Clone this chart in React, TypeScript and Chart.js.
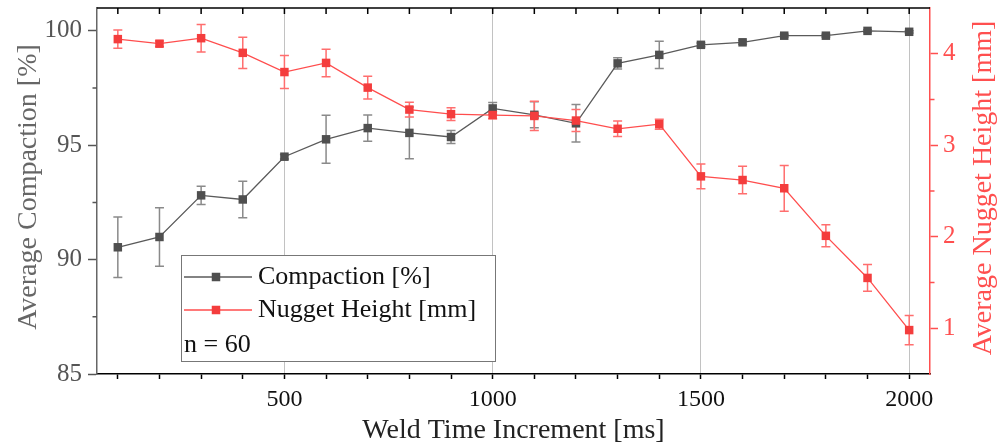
import React, { useEffect, useRef } from "react";
import { Chart, registerables } from "chart.js";

Chart.register(...registerables);

// ---- data ----
const weldTimes = [100, 200, 300, 400, 500, 600, 700, 800, 900, 1000, 1100, 1200, 1300, 1400, 1500, 1600, 1700, 1800, 1900, 2000];
const compaction = [90.54, 90.99, 92.81, 92.63, 94.5, 95.26, 95.75, 95.54, 95.36, 96.61, 96.33, 95.96, 98.58, 98.95, 99.39, 99.5, 99.79, 99.79, 100.0, 99.96];
const compactionErr = [1.32, 1.28, 0.4, 0.8, 0.1, 1.05, 0.57, 1.13, 0.28, 0.26, 0.57, 0.82, 0.25, 0.6, 0.08, 0.08, 0.06, 0.06, 0.05, 0.05];
const nuggetHeight = [4.16, 4.11, 4.17, 4.01, 3.8, 3.9, 3.63, 3.39, 3.34, 3.33, 3.32, 3.27, 3.18, 3.23, 2.66, 2.62, 2.53, 2.01, 1.55, 0.98];
const nuggetErr = [0.1, 0.03, 0.15, 0.17, 0.18, 0.15, 0.125, 0.08, 0.07, 0.04, 0.16, 0.12, 0.085, 0.055, 0.135, 0.15, 0.25, 0.12, 0.146, 0.16];

const xTickValues = [100, 200, 300, 400, 500, 600, 700, 800, 900, 1000, 1100, 1200, 1300, 1400, 1500, 1600, 1700, 1800, 1900, 2000];
const xLabelStep = 500;
const yTicks = [85, 90, 95, 100];
const yMinorTicks = [87.5, 92.5, 97.5];
const y1Ticks = [1, 2, 3, 4];
const y1MinorTicks = [1.5, 2.5, 3.5];

const xTitle = "Weld Time Increment [ms]";
const yTitle = "Average Compaction [%]";
const y1Title = "Average Nugget Height [mm]";
const seriesNames = ["Compaction [%]", "Nugget Height [mm]"];
const noteText = "n = 60";

// ---- styles ----
const FONT = "'Liberation Serif', 'Times New Roman', serif";
const GRAY = "#4f4f4f";
const GRAY_LINE = "#5a5a5a";
const GRAY_ERR = "#8a8a8a";
const RED = "#f43d3d";
const RED_LINE = "#ff4d4d";
const RED_ERR = "#ff6e6e";
const RED_AXIS = "#ff4f4f";

function drawErrors(ctx: CanvasRenderingContext2D, xs: any, ys: any, vals: number[], errs: number[], color: string) {
  ctx.save();
  ctx.strokeStyle = color;
  ctx.lineWidth = 1.5;
  for (let i = 0; i < weldTimes.length; i++) {
    const px = xs.getPixelForValue(weldTimes[i]);
    const top = ys.getPixelForValue(vals[i] + errs[i]);
    const bot = ys.getPixelForValue(vals[i] - errs[i]);
    ctx.beginPath();
    ctx.moveTo(px, top);
    ctx.lineTo(px, bot);
    ctx.moveTo(px - 4.5, top);
    ctx.lineTo(px + 4.5, top);
    ctx.moveTo(px - 4.5, bot);
    ctx.lineTo(px + 4.5, bot);
    ctx.stroke();
  }
  ctx.restore();
}

function noEdgePadding(s: any) {
  s.paddingTop = 0;
  s.paddingBottom = 0;
  s.paddingLeft = 0;
  s.paddingRight = 0;
}

const decorPlugin = {
  id: "decor",
  beforeDatasetsDraw(chart: any) {
    const { ctx, scales } = chart;
    drawErrors(ctx, scales.x, scales.y, compaction, compactionErr, GRAY_ERR);
    drawErrors(ctx, scales.x, scales.y1, nuggetHeight, nuggetErr, RED_ERR);
  },
  afterDraw(chart: any) {
    const { ctx, chartArea, scales } = chart;
    const { left, right, top, bottom } = chartArea;
    ctx.save();
    // top frame
    ctx.strokeStyle = "#000";
    ctx.lineWidth = 1.5;
    ctx.beginPath();
    ctx.moveTo(left, top);
    ctx.lineTo(right, top);
    ctx.stroke();
    // top inward ticks
    ctx.beginPath();
    for (const v of xTickValues) {
      const px = scales.x.getPixelForValue(v);
      ctx.moveTo(px, top);
      ctx.lineTo(px, top + 6);
    }
    ctx.stroke();
    // left minor ticks
    ctx.strokeStyle = "#555";
    ctx.beginPath();
    for (const v of yMinorTicks) {
      const py = scales.y.getPixelForValue(v);
      ctx.moveTo(left - 4.5, py);
      ctx.lineTo(left, py);
    }
    ctx.stroke();
    // right minor ticks
    ctx.strokeStyle = RED_AXIS;
    ctx.beginPath();
    for (const v of y1MinorTicks) {
      const py = scales.y1.getPixelForValue(v);
      ctx.moveTo(right, py);
      ctx.lineTo(right + 4.5, py);
    }
    ctx.stroke();

    // titles
    ctx.font = `28px ${FONT}`;
    ctx.textAlign = "center";
    ctx.textBaseline = "alphabetic";
    ctx.fillStyle = "#222";
    ctx.fillText(xTitle, (left + right) / 2, 438);

    ctx.save();
    ctx.translate(36, (top + bottom) / 2 - 4);
    ctx.rotate(-Math.PI / 2);
    ctx.fillStyle = "#666";
    ctx.fillText(yTitle, 0, 0);
    ctx.restore();

    ctx.save();
    ctx.translate(991, (top + bottom) / 2 - 3);
    ctx.rotate(-Math.PI / 2);
    ctx.fillStyle = RED_AXIS;
    ctx.fillText(y1Title, 0, 0);
    ctx.restore();

    // legend
    const bx = 181.5, by = 255.5, bw = 314, bh = 106;
    ctx.fillStyle = "#fff";
    ctx.fillRect(bx, by, bw, bh);
    ctx.strokeStyle = "#777";
    ctx.lineWidth = 1;
    ctx.strokeRect(bx, by, bw, bh);
    const rows = [
      { y: 277, line: GRAY_LINE, fill: GRAY, text: seriesNames[0] },
      { y: 310, line: RED_LINE, fill: RED, text: seriesNames[1] },
    ];
    ctx.font = `26px ${FONT}`;
    ctx.textAlign = "left";
    ctx.textBaseline = "middle";
    for (const r of rows) {
      ctx.strokeStyle = r.line;
      ctx.lineWidth = 1.5;
      ctx.beginPath();
      ctx.moveTo(184, r.y);
      ctx.lineTo(252, r.y);
      ctx.stroke();
      ctx.fillStyle = r.fill;
      ctx.fillRect(216 - 4.25, r.y - 4.25, 8.5, 8.5);
      ctx.fillStyle = "#111";
      ctx.fillText(r.text, 258, r.y);
    }
    ctx.fillText(noteText, 184, 345);
    ctx.restore();
  },
};

export default function App() {
  const ref = useRef<HTMLCanvasElement>(null);
  useEffect(() => {
    const canvas = ref.current!;
    const chart = new Chart(canvas, {
      type: "line",
      data: {
        datasets: [
          {
            label: seriesNames[1],
            data: weldTimes.map((t, i) => ({ x: t, y: nuggetHeight[i] })),
            yAxisID: "y1",
            borderColor: RED_LINE,
            backgroundColor: RED,
            borderWidth: 1.3,
            pointStyle: "rect",
            pointRadius: 6,
            pointBorderWidth: 0,
            pointBackgroundColor: RED,
            order: 0,
          },
          {
            label: seriesNames[0],
            data: weldTimes.map((t, i) => ({ x: t, y: compaction[i] })),
            yAxisID: "y",
            borderColor: GRAY_LINE,
            backgroundColor: GRAY,
            borderWidth: 1.3,
            pointStyle: "rect",
            pointRadius: 6,
            pointBorderWidth: 0,
            pointBackgroundColor: GRAY,
            order: 1,
          },
        ],
      },
      options: {
        animation: false,
        responsive: false,
        devicePixelRatio: 1,
        layout: { padding: { top: 8, left: 0, right: 0, bottom: 0 } },
        plugins: { legend: { display: false }, tooltip: { enabled: false } },
        scales: {
          x: {
            type: "linear",
            min: 50,
            max: 2050,
            afterBuildTicks: (s: any) => {
              s.ticks = xTickValues.map((v) => ({ value: v }));
            },
            afterFit: (s: any) => {
              s.height = 73;
              noEdgePadding(s);
            },
            ticks: {
              autoSkip: false,
              maxRotation: 0,
              minRotation: 0,
              padding: 6,
              color: "#111",
              font: { family: FONT, size: 24 },
              callback: (v: any) => (Number(v) % xLabelStep === 0 ? String(v) : ""),
            },
            grid: {
              drawTicks: true,
              tickLength: 5,
              tickWidth: 1.5,
              tickColor: "#000",
              lineWidth: 1,
              color: (c: any) => (c.tick && c.tick.value % xLabelStep === 0 ? "#c2c2c2" : "rgba(0,0,0,0)"),
            },
            border: { display: true, color: "#000", width: 1.5 },
          },
          y: {
            type: "linear",
            position: "left",
            min: 85,
            max: 101,
            afterBuildTicks: (s: any) => {
              s.ticks = yTicks.map((v) => ({ value: v }));
            },
            afterFit: (s: any) => {
              s.width = 97;
              noEdgePadding(s);
            },
            ticks: {
              padding: 6,
              color: "#555",
              font: { family: FONT, size: 25 },
            },
            grid: {
              drawOnChartArea: false,
              drawTicks: true,
              tickLength: 9,
              tickWidth: 1.5,
              tickColor: "#555",
            },
            border: { display: true, color: "#666", width: 1.5 },
          },
          y1: {
            type: "linear",
            position: "right",
            min: 0.5,
            max: 4.5,
            afterBuildTicks: (s: any) => {
              s.ticks = y1Ticks.map((v) => ({ value: v }));
            },
            afterFit: (s: any) => {
              s.width = 71;
              noEdgePadding(s);
            },
            ticks: {
              padding: 5,
              color: RED_AXIS,
              font: { family: FONT, size: 25 },
            },
            grid: {
              drawOnChartArea: false,
              drawTicks: true,
              tickLength: 8,
              tickWidth: 1.5,
              tickColor: RED_AXIS,
            },
            border: { display: true, color: RED_AXIS, width: 1.5 },
          },
        },
      },
      plugins: [decorPlugin],
    } as any);
    return () => chart.destroy();
  }, []);
  return (
    <div style={{ position: "fixed", left: 0, top: 0, width: 1001, height: 447, background: "#fff" }}>
      <canvas ref={ref} width={1001} height={447} style={{ display: "block" }} />
    </div>
  );
}
